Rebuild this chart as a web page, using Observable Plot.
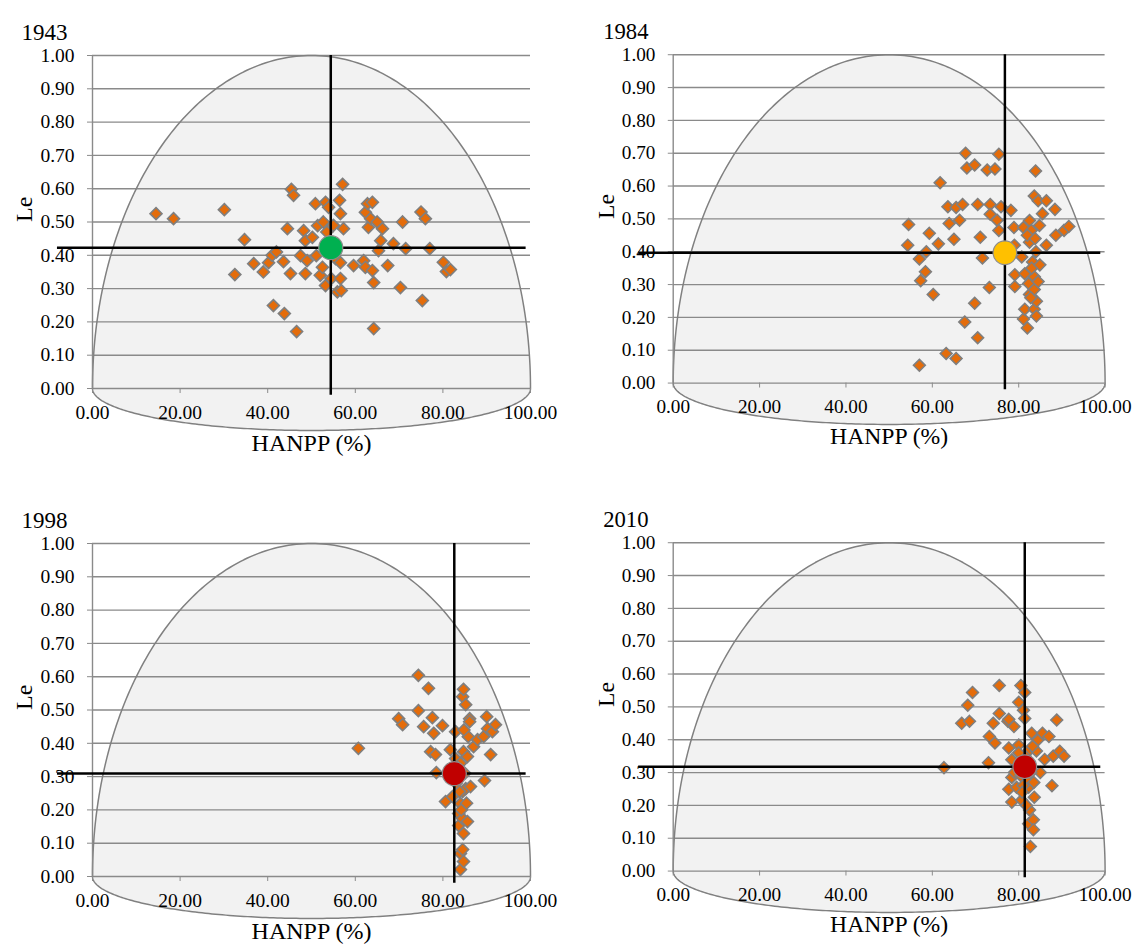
<!DOCTYPE html>
<html><head><meta charset="utf-8">
<script src="https://cdn.jsdelivr.net/npm/d3@7"></script>
<script src="https://cdn.jsdelivr.net/npm/@observablehq/plot@0.6"></script>
<style>
html,body{margin:0;padding:0;background:#fff}
body{width:1147px;height:950px;overflow:hidden;position:relative;font-family:"Liberation Serif","Times New Roman",serif}
.panel{position:absolute}
.panel svg{overflow:visible}
.panel svg, .panel svg text{font-family:"Liberation Serif","Times New Roman",serif !important}
</style></head><body>
<div id="root"></div>
<script>
// ---- data ----
const years = ["1943", "1984", "1998", "2010"];
const xTicks = [0, 20, 40, 60, 80, 100];
const yTicks = [0, 0.1, 0.2, 0.3, 0.4, 0.5, 0.6, 0.7, 0.8, 0.9, 1.0];

// [HANPP (%), Le]
const pts1943 = [[14.5,0.525],[18.5,0.51],[30.1,0.537],[32.5,0.342],[34.7,0.447],[36.8,0.375],[39,0.35],[40.2,0.378],[41,0.40],[41.3,0.249],[42,0.41],[43.6,0.381],[43.8,0.225],[44.5,0.48],[45.2,0.345],[45.4,0.598],[45.9,0.58],[46.6,0.171],[47.5,0.399],[48.2,0.474],[48.6,0.444],[48.6,0.345],[49,0.384],[50.2,0.454],[50.9,0.555],[51.1,0.399],[51.4,0.489],[52,0.34],[52.5,0.364],[52.7,0.50],[53.2,0.559],[53.2,0.309],[53.5,0.47],[53.9,0.544],[54.5,0.33],[55,0.49],[55.5,0.39],[55.9,0.29],[56.4,0.565],[56.6,0.525],[56.6,0.378],[56.6,0.33],[56.8,0.294],[57.1,0.613],[57.3,0.48],[59.6,0.369],[61.9,0.384],[62.3,0.364],[62.3,0.529],[62.8,0.555],[63,0.484],[63.5,0.51],[63.9,0.559],[63.9,0.354],[64.2,0.318],[64.2,0.18],[65,0.50],[65.3,0.414],[65.8,0.444],[66.2,0.48],[67.4,0.369],[68.7,0.435],[70.3,0.303],[70.8,0.50],[71.5,0.42],[75.3,0.264],[75,0.53],[76,0.51],[77,0.42],[80.1,0.379],[80.8,0.351],[81.7,0.357]];
const pts1984 = [[54.5,0.483],[54.3,0.42],[57,0.378],[58.4,0.339],[57.3,0.312],[57,0.054],[58.6,0.40],[59.3,0.456],[60.2,0.27],[61.4,0.424],[61.8,0.61],[63.6,0.537],[63.9,0.486],[63.2,0.09],[65,0.438],[65.5,0.535],[65.5,0.075],[66.3,0.496],[67,0.544],[67.5,0.186],[67.7,0.70],[68,0.655],[69.8,0.664],[69.8,0.243],[70.5,0.544],[70.5,0.138],[71.1,0.444],[71.6,0.381],[72.7,0.649],[73.2,0.291],[73.4,0.544],[73.4,0.514],[74.5,0.652],[75,0.496],[75.4,0.697],[75.4,0.465],[75.9,0.537],[78.2,0.526],[78.9,0.474],[79.1,0.33],[79.1,0.294],[79,0.42],[80.7,0.384],[81.1,0.474],[81.1,0.195],[81.4,0.333],[81.4,0.225],[82,0.168],[82.3,0.303],[82.5,0.495],[82.5,0.429],[82.5,0.27],[82.9,0.465],[83.2,0.369],[83.6,0.57],[83.6,0.324],[83.6,0.285],[83.6,0.225],[83.9,0.646],[84.1,0.249],[84.1,0.204],[84.5,0.555],[84.5,0.309],[84.8,0.48],[85.5,0.516],[86.4,0.555],[86.4,0.42],[88.4,0.529],[88.6,0.45],[90.5,0.465],[91.6,0.477],[84,0.40],[83,0.35],[82,0.45],[83.8,0.44],[84.9,0.36],[82.8,0.26]];
const pts1998 = [[60.7,0.385],[69.9,0.474],[70.8,0.456],[74.4,0.604],[74.4,0.498],[75.6,0.45],[76.7,0.565],[77.6,0.477],[77.9,0.43],[77.2,0.375],[78.3,0.366],[78.5,0.312],[79.9,0.453],[80.6,0.225],[81.7,0.381],[82.2,0.24],[82.9,0.435],[82.9,0.354],[83.6,0.189],[83.6,0.153],[84,0.219],[84,0.069],[84,0.021],[84.5,0.54],[84.5,0.255],[84.5,0.174],[84.5,0.081],[84.7,0.562],[84.7,0.375],[84.7,0.129],[84.7,0.045],[85.2,0.516],[85.2,0.264],[85.6,0.36],[85.6,0.165],[86.1,0.474],[86.1,0.465],[86.3,0.27],[87,0.39],[87.9,0.411],[89.3,0.42],[89.5,0.288],[90,0.48],[90.2,0.444],[90.9,0.366],[91.3,0.435],[92,0.456],[83.5,0.30],[84,0.34],[85,0.31],[83,0.28],[84.2,0.20],[83.2,0.33],[85.8,0.42],[84.8,0.44],[83.8,0.255],[85.4,0.22]];
const pts2010 = [[62.7,0.315],[66.8,0.45],[68.2,0.505],[68.6,0.456],[69.3,0.544],[73,0.33],[73.2,0.41],[74.1,0.45],[74.5,0.39],[75.5,0.565],[75.5,0.48],[77.5,0.456],[77.7,0.462],[77.7,0.375],[77.7,0.249],[78.4,0.339],[78.4,0.285],[78.4,0.21],[78.9,0.44],[79.5,0.255],[80,0.514],[80,0.384],[80.5,0.565],[80.7,0.216],[81.1,0.49],[81.4,0.544],[81.4,0.465],[82.3,0.255],[82.3,0.144],[82.5,0.369],[82.5,0.186],[82.7,0.075],[83,0.42],[83.4,0.156],[83.4,0.126],[83.6,0.225],[84.1,0.366],[84.5,0.40],[85,0.30],[85.5,0.42],[86,0.34],[87,0.41],[87.7,0.26],[88,0.35],[88.8,0.46],[89.5,0.365],[90.5,0.35],[80.5,0.33],[79,0.30],[82,0.28],[81.5,0.35],[80.5,0.29],[81,0.26],[82.8,0.30],[83.5,0.27],[80.8,0.24],[81.8,0.20],[80,0.36],[83.2,0.38]];
const points = [pts1943, pts1984, pts1998, pts2010];

// mean point [HANPP, Le] per year
const means = [[54.4, 0.423], [76.8, 0.397], [82.6, 0.309], [81.4, 0.318]];
const meanColors = ["#00b050", "#ffc000", "#c00000", "#c00000"];
// extent of the cross lines
const hLineX = [-8, 99];
const vLineY = [-0.02, 1.0];

// reference half-ellipse (HANPP 0..100, Le up to 1, small lower lip)
const ellipseCenter = 50, ellipseRadius = 50, ellipseTop = 1.0, ellipseLip = 0.126;

// ---- layout ----
const panelLeft = [0, 582, 0, 582];
const panelTop = [0, 0, 488, 488];
const serif = "Liberation Serif";

const ellipse = d3.range(0, 181).map(i => {
  const t = i / 180 * Math.PI;
  return {x: ellipseCenter - ellipseRadius * Math.cos(t), hi: ellipseTop * Math.sin(t), lo: -ellipseLip * Math.sin(t)};
});
const outline = ellipse.map(d => ({x: d.x, y: d.hi})).concat(ellipse.slice().reverse().map(d => ({x: d.x, y: d.lo})));

const root = document.getElementById("root");
const fmt = d => d.toFixed(2);
const grid = "#8a8a8a";

years.forEach((year, i) => {
  const m = means[i];
  const chart = Plot.plot({
    width: 573, height: 475,
    marginLeft: 92, marginRight: 43, marginTop: 55, marginBottom: 87,
    x: {domain: [0, 100]},
    y: {domain: [0, 1]},
    style: {fontFamily: serif, fontSize: "19.5px", background: "transparent", overflow: "visible", color: "black"},
    marks: [
      Plot.area(ellipse, {x1: "x", y1: "lo", y2: "hi", fill: "#f2f2f2"}),
      Plot.ruleY(yTicks, {stroke: grid, strokeWidth: 1.4}),
      Plot.line(outline, {x: "x", y: "y", stroke: "#808080", strokeWidth: 1.5}),
      Plot.ruleX([0], {y1: 0, y2: 1, stroke: grid, strokeWidth: 1.4}),
      Plot.axisY({ticks: yTicks, tickFormat: fmt, tickSize: 5, tickPadding: 13, stroke: grid, fill: "black", label: null, fontFamily: serif, fontSize: 19.5}),
      Plot.axisX({ticks: xTicks, tickFormat: fmt, tickSize: 5, tickPadding: 12, stroke: grid, fill: "black", label: null, fontFamily: serif, fontSize: 19.5}),
      Plot.dot(points[i], {x: d => d[0], y: d => d[1], symbol: "diamond2", r: 5.4, fill: "#e46c0a", stroke: "#7f7f7f", strokeWidth: 1.6}),
      Plot.ruleX([m[0]], {y1: vLineY[0], y2: vLineY[1], stroke: "black", strokeWidth: 2.5}),
      Plot.ruleY([m[1]], {x1: hLineX[0], x2: hLineX[1], stroke: "black", strokeWidth: 2.5}),
      Plot.dot([m], {x: d => d[0], y: d => d[1], r: 12, fill: meanColors[i], stroke: "#8c8c8c", strokeWidth: 1.2}),
      Plot.text([year], {frameAnchor: "top-left", dx: -71, dy: -32, fontSize: 23, fontFamily: serif, textAnchor: "start"}),
      Plot.text(["HANPP (%)"], {frameAnchor: "bottom", dy: 62, fontSize: 24, fontFamily: serif}),
      Plot.text(["Le"], {frameAnchor: "left", dx: -68, rotate: -90, fontSize: 24, fontFamily: serif})
    ]
  });
  const div = document.createElement("div");
  div.className = "panel";
  div.style.left = panelLeft[i] + "px";
  div.style.top = panelTop[i] + "px";
  div.appendChild(chart);
  root.appendChild(div);
});
</script>
</body></html>
